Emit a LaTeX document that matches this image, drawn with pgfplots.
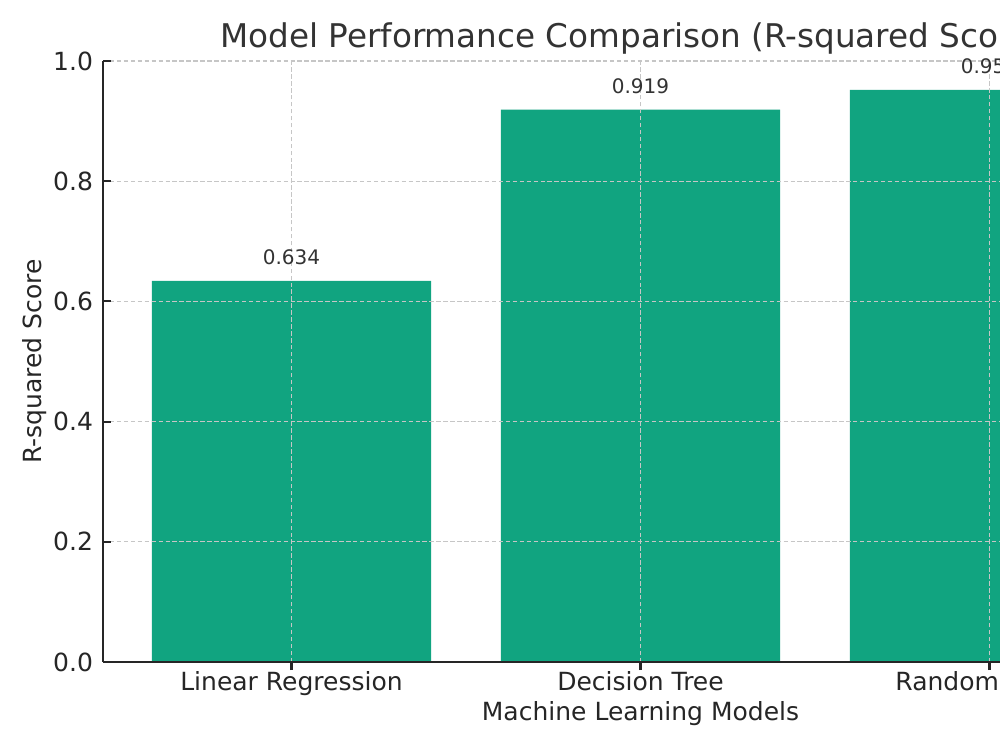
\documentclass[border=0pt]{standalone}
\usepackage{pgfplots}
\pgfplotsset{compat=1.18}
\usepackage{fontspec}
\setmainfont{DejaVu Sans}
\definecolor{barc}{RGB}{17,164,128}
\definecolor{txt}{HTML}{333333}
\definecolor{tickc}{HTML}{262626}
\begin{document}
\begin{tikzpicture}
\path[use as bounding box, fill=white] (0,0) rectangle (720pt,540pt);
\clip (0,0) rectangle (720pt,540pt);
\begin{axis}[
  at={(74.16pt,63.36pt)}, anchor=south west,
  scale only axis, width=774pt, height=432.72pt,
  xmin=-0.54, xmax=2.54, ymin=0, ymax=1,
  axis x line*=bottom, axis y line*=left,
  axis line style={line width=1.5pt, color=tickc},
  axis on top,
  xtick={0,1,2},
  xticklabels={Linear Regression, Decision Tree, Random Forest},
  ytick={0,0.2,0.4,0.6,0.8,1.0},
  /pgf/number format/assume math mode=true,
  yticklabel={\pgfmathprintnumber[fixed,fixed zerofill,precision=1]{\tick}},
  tick align=inside,
  major tick length=5.8pt,
  tick style={line width=1.5pt, color=tickc},
  ticklabel style={font=\fontsize{18}{21}\selectfont, color=tickc},
  yticklabel style={anchor=east, inner sep=0pt, xshift=-7pt},
  xticklabel style={anchor=base, inner sep=0pt, yshift=-14.5pt},
  grid=major,
  major grid style={dash pattern=on 3.2pt off 1.8pt, color=gray!45, line width=0.8pt},
  title={Model Performance Comparison (R-squared Scores)},
  title style={font=\fontsize{23.5}{28}\selectfont, color=txt, at={(axis description cs:0.5,1)}, anchor=base, inner sep=0pt, yshift=4pt},
  xlabel={Machine Learning Models},
  xlabel style={font=\fontsize{18}{21}\selectfont, color=tickc, at={(axis description cs:0.5,0)}, anchor=base, inner sep=0pt, yshift=-42pt},
  ylabel={R-squared Score},
  every axis y label/.style={font=\fontsize{18}{21}\selectfont, color=tickc, at={(axis description cs:-0.0633,0.5)}, rotate=90, anchor=center, inner sep=0pt},
  ybar, bar width=0.8,
  nodes near coords={\pgfmathprintnumber[fixed,fixed zerofill,precision=3]{\pgfplotspointmeta}},
  nodes near coords style={font=\fontsize{14.4}{17}\selectfont, color=txt, anchor=base, inner sep=0pt, yshift=11.5pt},
]
\addplot[fill=barc, draw=none] coordinates {(0,0.634) (1,0.919) (2,0.952)};
\end{axis}
\end{tikzpicture}
\end{document}
